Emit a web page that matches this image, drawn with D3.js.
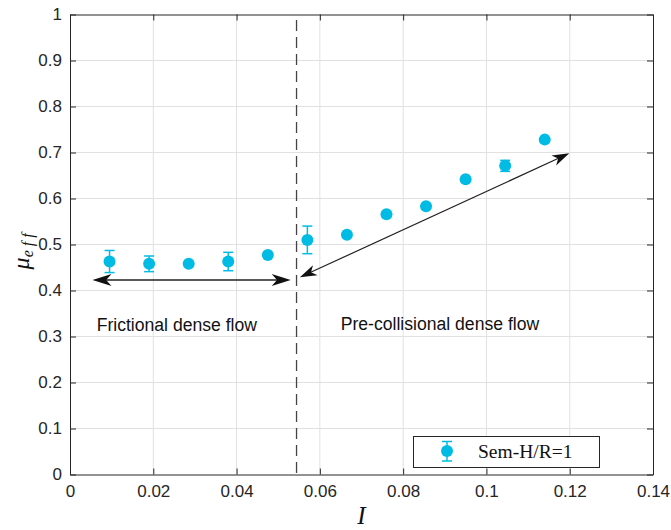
<!DOCTYPE html>
<html><head><meta charset="utf-8">
<script src="https://cdn.jsdelivr.net/npm/d3@7"></script>
<style>body{margin:0;background:#fff}svg{display:block}</style>
</head><body>
<script>
const Ivals = [0.0095,0.019,0.0285,0.038,0.0475,0.057,0.0665,0.076,0.0855,0.095,0.1045,0.114];
const muVals = [0.463,0.458,0.458,0.463,0.477,0.510,0.521,0.566,0.583,0.642,0.671,0.728];
const errVals = [0.024,0.017,0,0.020,0,0.030,0,0,0,0,0.012,0];
const xTicks = [0,0.02,0.04,0.06,0.08,0.1,0.12,0.14];
const yTicks = [0,0.1,0.2,0.3,0.4,0.5,0.6,0.7,0.8,0.9,1];
const regimeBoundary = 0.0544;
const arrowFrom = [[0.0054,0.4228],[0.0552,0.4287]];
const arrowTo = [[0.0530,0.4228],[0.1199,0.6983]];
const regionLabels = ["Frictional dense flow","Pre-collisional dense flow"];
const regionLabelPos = [[0.0064,0.325],[0.0650,0.327]];
const legendLabel = "Sem-H/R=1";

const W=671,H=530;
const m={l:70,r:18,t:14.5,b:55.5};
const svg=d3.select("body").append("svg").attr("width",W).attr("height",H);
const x=d3.scaleLinear().domain([0,0.14]).range([m.l,W-m.r]);
const y=d3.scaleLinear().domain([0,1]).range([H-m.b,m.t]);
const axisCol="#262626", cyan="#00BCE4";

// grid
const g=svg.append("g");
g.selectAll(".gx").data(xTicks.slice(1,-1)).join("line")
 .attr("x1",d=>x(d)).attr("x2",d=>x(d)).attr("y1",y(0)).attr("y2",y(1))
 .attr("stroke","#e1e1e1").attr("stroke-width",1);
g.selectAll(".gy").data(yTicks.slice(1,-1)).join("line")
 .attr("y1",d=>y(d)).attr("y2",d=>y(d)).attr("x1",x(0)).attr("x2",x(0.14))
 .attr("stroke","#e1e1e1").attr("stroke-width",1);

// axes
const fmt=d=>d3.format("~g")(d);
const ax=svg.append("g").attr("transform",`translate(0,${y(0)})`)
 .call(d3.axisBottom(x).tickValues(xTicks).tickFormat(fmt).tickSizeInner(-6).tickSizeOuter(0).tickPadding(10));
const ay=svg.append("g").attr("transform",`translate(${x(0)},0)`)
 .call(d3.axisLeft(y).tickValues(yTicks).tickFormat(fmt).tickSizeInner(-6).tickSizeOuter(0).tickPadding(8));
const at=svg.append("g").attr("transform",`translate(0,${y(1)})`)
 .call(d3.axisTop(x).tickValues(xTicks).tickFormat("").tickSizeInner(-6).tickSizeOuter(0));
const ar=svg.append("g").attr("transform",`translate(${x(0.14)},0)`)
 .call(d3.axisRight(y).tickValues(yTicks).tickFormat("").tickSizeInner(-6).tickSizeOuter(0));
[ax,ay,at,ar].forEach(a=>{
  a.selectAll("path").attr("stroke",axisCol).attr("stroke-width",1);
  a.selectAll("line").attr("stroke",axisCol).attr("stroke-width",1);
  a.selectAll("text").attr("fill",axisCol).style("font-family","'Liberation Sans',Arial,sans-serif").style("font-size","17px");
});

// dashed boundary
svg.append("line").attr("x1",x(regimeBoundary)).attr("x2",x(regimeBoundary))
 .attr("y1",y(0.988)).attr("y2",y(0)).attr("stroke","#444").attr("stroke-width",1.3)
 .attr("stroke-dasharray","11,6");

// arrows
function head(px,py,ang,L,Wd){
  const c=Math.cos(ang),s=Math.sin(ang);
  const pts=[[0,0],[-L,Wd/2],[-L*0.72,0],[-L,-Wd/2]].map(([a,b])=>[px+a*c-b*s,py+a*s+b*c]);
  return "M"+pts.map(p=>p.join(",")).join("L")+"Z";
}
arrowFrom.forEach((f,i)=>{
  const t=arrowTo[i];
  const x1=x(f[0]),y1=y(f[1]),x2=x(t[0]),y2=y(t[1]);
  const ang=Math.atan2(y2-y1,x2-x1);
  const L=i===0?19:17, Wd=i===0?12:11, sw=i===0?1.5:1.2;
  svg.append("line").attr("x1",x1+Math.cos(ang)*L*0.7).attr("y1",y1+Math.sin(ang)*L*0.7)
   .attr("x2",x2-Math.cos(ang)*L*0.7).attr("y2",y2-Math.sin(ang)*L*0.7)
   .attr("stroke","#222").attr("stroke-width",sw);
  svg.append("path").attr("d",head(x2,y2,ang,L,Wd)).attr("fill","#111");
  svg.append("path").attr("d",head(x1,y1,ang+Math.PI,L,Wd)).attr("fill","#111");
});

// region labels
svg.selectAll(".rl").data(regionLabels).join("text")
 .attr("x",(d,i)=>x(regionLabelPos[i][0])).attr("y",(d,i)=>y(regionLabelPos[i][1]))
 .attr("dy","0.35em").text(d=>d).attr("fill","#111")
 .style("font-family","'Liberation Sans',Arial,sans-serif").style("font-size","17.6px");

// error bars
const pts=Ivals.map((v,i)=>({x:v,y:muVals[i],e:errVals[i]}));
const eb=svg.append("g").attr("stroke",cyan).attr("stroke-width",1.5);
pts.filter(d=>d.e>0).forEach(d=>{
  eb.append("line").attr("x1",x(d.x)).attr("x2",x(d.x)).attr("y1",y(d.y-d.e)).attr("y2",y(d.y+d.e));
  [d.y-d.e,d.y+d.e].forEach(v=>eb.append("line").attr("x1",x(d.x)-5).attr("x2",x(d.x)+5).attr("y1",y(v)).attr("y2",y(v)));
});
svg.selectAll(".pt").data(pts).join("circle")
 .attr("cx",d=>x(d.x)).attr("cy",d=>y(d.y)).attr("r",6).attr("fill",cyan);

// legend
const lg=svg.append("g");
lg.append("rect").attr("x",413.5).attr("y",436.5).attr("width",186).attr("height",31)
 .attr("fill","#fff").attr("stroke",axisCol).attr("stroke-width",1);
lg.append("line").attr("x1",447).attr("x2",447).attr("y1",441.5).attr("y2",461).attr("stroke",cyan).attr("stroke-width",1.5);
[441.5,461].forEach(v=>lg.append("line").attr("x1",442).attr("x2",452).attr("y1",v).attr("y2",v).attr("stroke",cyan).attr("stroke-width",1.5));
lg.append("circle").attr("cx",447).attr("cy",451).attr("r",6).attr("fill",cyan);
lg.append("text").attr("x",478).attr("y",458).text(legendLabel).attr("fill","#111")
 .style("font-family","'Liberation Serif','Times New Roman',serif").style("font-size","19.5px");

// axis labels
svg.append("text").attr("x",x(0.07)).attr("y",524).attr("text-anchor","middle")
 .text("I").attr("fill","#111").style("font-family","'Liberation Serif',serif").style("font-style","italic").style("font-size","25px");
const yl=svg.append("text").attr("transform",`translate(29,${y(0.485)}) rotate(-90)`).attr("text-anchor","middle")
 .attr("fill","#111").style("font-family","'Liberation Serif',serif").style("font-style","italic");
yl.append("tspan").text("μ").style("font-size","24px");
yl.append("tspan").text("e f f").attr("dy","4").style("font-size","16px");
</script>
</body></html>
